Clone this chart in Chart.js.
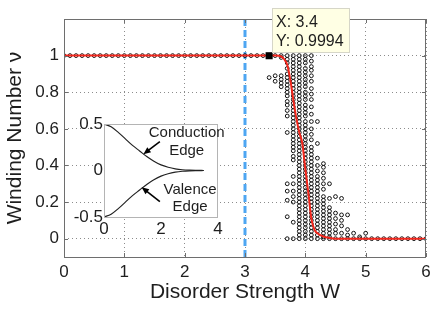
<!DOCTYPE html>
<html>
<head>
<meta charset="utf-8">
<script src="https://cdn.jsdelivr.net/npm/chart.js@4.4.1/dist/chart.umd.min.js"></script>
<style>
    html, body { margin: 0; padding: 0; background: #fff; }
    #wrap { position: relative; width: 436px; height: 311px; }
    #main { position: absolute; left: 0; top: 0; width: 436px; height: 311px; }
    #inset { position: absolute; left: 60px; top: 110px; width: 180px; height: 135px; }
</style>
</head>
<body>
<div id="wrap">
    <canvas id="main" width="436" height="311"></canvas>
    <canvas id="inset" width="180" height="135"></canvas>
</div>
<script>
// ---------------- DATA ----------------
// mean winding number (red curve)
const meanW  = [0, 0.5, 1, 1.5, 2, 2.5, 3, 3.4, 3.5, 3.6, 3.65, 3.7, 3.75, 3.8, 3.85, 3.9, 3.95, 4.0, 4.05, 4.1, 4.15, 4.2, 4.3, 4.4, 4.5, 5, 5.5, 6];
const meanNu = [1, 1, 1, 1, 1, 1, 1, 1, 1, 0.995, 0.98, 0.95, 0.87, 0.76, 0.66, 0.58, 0.52, 0.38, 0.25, 0.11, 0.05, 0.03, 0.012, 0.004, 0, 0, 0, 0];

// single realisations (open circles)
const plateauW = [0, 0.1, 0.2, 0.3, 0.4, 0.5, 0.6, 0.7, 0.8, 0.9, 1.0, 1.1, 1.2, 1.3, 1.4, 1.5, 1.6,
                  1.7, 1.8, 1.9, 2.0, 2.1, 2.2, 2.3, 2.4, 2.5, 2.6, 2.7, 2.8, 2.9, 3.0, 3.1, 3.2, 3.3];
const tailW = [5.1, 5.2, 5.3, 5.4, 5.5, 5.6, 5.7, 5.8, 5.9, 6.0];

const colW = [3.4, 3.5, 3.6, 3.7, 3.8, 3.9, 4.0, 4.1, 4.2, 4.3, 4.4, 4.5, 4.6, 4.7, 4.8, 4.9, 5.0];
const colNu = [
    [1, 0.88],
    [1, 0.89, 0.86],
    [1, 0.99, 0.89, 0.87, 0.85, 0.83],
    [1, 0.98, 0.96, 0.93, 0.9, 0.88, 0.86, 0.84, 0.82, 0.8, 0.78, 0.75, 0.73, 0.7, 0.67, 0.58, 0.3, 0.26, 0.21, 0.12, 0],
    [1, 0.98, 0.96, 0.94, 0.92, 0.9, 0.88, 0.86, 0.84, 0.82, 0.8, 0.78, 0.76, 0.74, 0.72, 0.7, 0.68, 0.66, 0.64,
     0.62, 0.6, 0.58, 0.56, 0.54, 0.52, 0.5, 0.48, 0.45, 0.43, 0.34, 0.3, 0.26, 0.23, 0.2, 0.09, 0],
    [1, 0.98, 0.96, 0.94, 0.92, 0.9, 0.88, 0.86, 0.84, 0.82, 0.8, 0.78, 0.76, 0.74, 0.72, 0.7, 0.68, 0.66, 0.64,
     0.62, 0.6, 0.58, 0.56, 0.54, 0.52, 0.5, 0.48, 0.46, 0.44, 0.42, 0.4, 0.38, 0.36, 0.34, 0.32, 0.3, 0.28,
     0.26, 0.24, 0.22, 0.2, 0.18, 0.16, 0.14, 0.12, 0.1, 0.08, 0.06, 0.04, 0.02, 0],
    [1, 0.98, 0.96, 0.93, 0.91, 0.89, 0.87, 0.85, 0.83, 0.8, 0.78, 0.76, 0.73, 0.71, 0.69, 0.67, 0.64, 0.62,
     0.6, 0.58, 0.56, 0.54, 0.52, 0.5, 0.48, 0.46, 0.44, 0.42, 0.4, 0.38, 0.36, 0.34, 0.32, 0.3, 0.28, 0.26,
     0.24, 0.22, 0.2, 0.18, 0.16, 0.14, 0.12, 0.1, 0.08, 0.06, 0.04, 0.02, 0],
    [1, 0.97, 0.94, 0.92, 0.89, 0.86, 0.82, 0.79, 0.76, 0.72, 0.68, 0.64, 0.6, 0.57, 0.54, 0.5, 0.48, 0.46,
     0.44, 0.42, 0.4, 0.38, 0.36, 0.34, 0.32, 0.3, 0.28, 0.26, 0.24, 0.22, 0.2, 0.18, 0.16, 0.14, 0.12, 0.1,
     0.08, 0.06, 0.04, 0.02, 0],
    [0.64, 0.52, 0.44, 0.4, 0.37, 0.34, 0.32, 0.3, 0.28, 0.26, 0.24, 0.22, 0.2, 0.18, 0.16, 0.14, 0.12, 0.1,
     0.08, 0.06, 0.04, 0.02, 0],
    [0.41, 0.39, 0.36, 0.33, 0.3, 0.27, 0.23, 0.21, 0.19, 0.17, 0.15, 0.13, 0.11, 0.09, 0.07, 0.05, 0.03, 0.01, 0],
    [0.3, 0.22, 0.17, 0.15, 0.13, 0.11, 0.09, 0.07, 0.05, 0.03, 0.01, 0],
    [0.23, 0.14, 0.11, 0.08, 0.05, 0.03, 0],
    [0.22, 0.13, 0.1, 0.07, 0.03, 0],
    [0.13, 0.05, 0.02, 0],
    [0.03, 0],
    [0.01, 0],
    [0.03, 0]
];

// data tip and critical-disorder marker
const tipPoint = { x: 3.4, y: 0.9994 };
const criticalW = 3;

const xTicks = [0, 1, 2, 3, 4, 5, 6];
const yTicks = [0, 0.2, 0.4, 0.6, 0.8, 1];

// inset: band edges vs W
const edgeW      = [0, 0.25, 0.5, 0.75, 1.0, 1.25, 1.5, 1.75, 2.0, 2.25, 2.5, 2.75, 3.0, 3.25, 3.5];
const conduction = [0.5, 0.47, 0.41, 0.34, 0.27, 0.21, 0.15, 0.1, 0.06, 0.035, 0.018, 0.008, 0.003, 0.001, 0];
const valence    = [-0.5, -0.47, -0.41, -0.34, -0.27, -0.21, -0.15, -0.1, -0.06, -0.035, -0.018, -0.008, -0.003, -0.001, 0];
const insetXTicks = [0, 2, 4];
const insetYTicks = [-0.5, 0, 0.5];

const FONT = "'Liberation Sans', Arial, Helvetica, sans-serif";
const TEXT = '#1e1e1e';

// ---------------- PLUGINS ----------------
const boxFrame = {
    id: 'boxFrame',
    beforeDatasetsDraw(chart, args, opts) {
        if (!opts.fill) return;
        const { ctx, chartArea: a } = chart;
        ctx.save();
        ctx.fillStyle = opts.fill;
        ctx.fillRect(a.left, a.top, a.right - a.left, a.bottom - a.top);
        ctx.restore();
    },
    afterDraw(chart, args, opts) {
        const { ctx, chartArea: a, scales } = chart;
        ctx.save();
        ctx.strokeStyle = opts.color;
        ctx.lineWidth = 1;
        ctx.strokeRect(Math.round(a.left) + 0.5, Math.round(a.top) + 0.5,
            Math.round(a.right - a.left) - 1, Math.round(a.bottom - a.top));
        if (opts.tick) {
            ctx.beginPath();
            scales.x.ticks.forEach(t => {
                const px = Math.round(scales.x.getPixelForValue(t.value)) + 0.5;
                ctx.moveTo(px, a.bottom); ctx.lineTo(px, a.bottom - opts.tick);
                ctx.moveTo(px, a.top); ctx.lineTo(px, a.top + opts.tick);
            });
            scales.y.ticks.forEach(t => {
                const py = Math.round(scales.y.getPixelForValue(t.value)) + 0.5;
                ctx.moveTo(a.left, py); ctx.lineTo(a.left + opts.tick, py);
                ctx.moveTo(a.right, py); ctx.lineTo(a.right - opts.tick, py);
            });
            ctx.stroke();
        }
        ctx.restore();
    }
};

const dataTip = {
    id: 'dataTip',
    afterDraw(chart) {
        const { ctx, scales } = chart;
        const px = scales.x.getPixelForValue(tipPoint.x);
        const py = scales.y.getPixelForValue(tipPoint.y);
        const left = Math.round(px) + 3, bottom = Math.round(py) - 3;
        const w = 78, h = 45;
        ctx.save();
        ctx.fillStyle = '#ffffe4';
        ctx.strokeStyle = '#d6d6c8';
        ctx.fillRect(left, bottom - h, w, h);
        ctx.strokeRect(left + 0.5, bottom - h + 0.5, w - 1, h - 1);
        ctx.fillStyle = TEXT;
        ctx.font = `16px ${FONT}`;
        ctx.textBaseline = 'alphabetic';
        ctx.fillText('X: ' + tipPoint.x, left + 4, bottom - h + 19);
        ctx.fillText('Y: ' + tipPoint.y, left + 4, bottom - h + 38);
        ctx.restore();
    }
};

// ---------------- MAIN CHART ----------------
const samples = [];
plateauW.forEach(w => samples.push({ x: w, y: 1 }));
colW.forEach((w, i) => colNu[i].forEach(v => samples.push({ x: w, y: v })));
tailW.forEach(w => samples.push({ x: w, y: 0 }));

new Chart(document.getElementById('main'), {
    type: 'scatter',
    data: {
        datasets: [
            {
                data: [tipPoint],
                pointStyle: 'rect',
                pointRadius: 5,
                backgroundColor: '#000',
                borderColor: '#000',
                borderWidth: 0
            },
            {
                data: meanW.map((w, i) => ({ x: w, y: meanNu[i] })),
                showLine: true,
                cubicInterpolationMode: 'monotone',
                borderColor: '#f2261c',
                borderWidth: 2,
                pointRadius: 0
            },
            {
                data: samples,
                pointStyle: 'circle',
                pointRadius: 1.9,
                borderWidth: 1,
                borderColor: '#111',
                backgroundColor: 'rgba(0,0,0,0)'
            },
            {
                data: [{ x: criticalW, y: -0.1 }, { x: criticalW, y: 1.2 }],
                showLine: true,
                borderColor: '#4ea6f2',
                borderWidth: 3,
                borderDash: [7, 4],
                pointRadius: 0
            }
        ]
    },
    options: {
        responsive: false,
        animation: false,
        layout: { padding: { top: 19, right: 10, left: 0, bottom: 0 } },
        plugins: {
            legend: { display: false },
            tooltip: { enabled: false },
            boxFrame: { color: '#6e6e6e', tick: 4 }
        },
        scales: {
            x: {
                type: 'linear', min: 0, max: 6,
                afterBuildTicks: s => { s.ticks = xTicks.map(v => ({ value: v })); },
                afterFit: s => { s.height = 54; },
                ticks: { color: TEXT, font: { family: FONT, size: 17 }, padding: 5, maxRotation: 0 },
                grid: { color: '#8c8c8c', drawTicks: false, lineWidth: 1 },
                border: { display: false, dash: [1, 3] },
                title: { display: true, text: 'Disorder Strength W', color: TEXT,
                         font: { family: FONT, size: 21 }, padding: { top: 0, bottom: 6 } }
            },
            y: {
                type: 'linear', min: -0.1, max: 1.2,
                afterBuildTicks: s => { s.ticks = yTicks.map(v => ({ value: v })); },
                afterFit: s => { s.width = 64; },
                ticks: { color: TEXT, font: { family: FONT, size: 17 }, padding: 5,
                         callback: v => String(+v.toFixed(2)) },
                grid: { color: '#8c8c8c', drawTicks: false, lineWidth: 1 },
                border: { display: false, dash: [1, 3] },
                title: { display: true, text: 'Winding Number ν', color: TEXT,
                         font: { family: FONT, size: 21 }, padding: { top: 3, bottom: 0 } }
            }
        }
    },
    plugins: [boxFrame, dataTip]
});

// ---------------- INSET ----------------
const edgeLabels = [
    { lines: ['Conduction', 'Edge'], x: 2.9, y: [0.41, 0.21], tail: [1.96, 0.31], tip: [1.38, 0.175] },
    { lines: ['Valence', 'Edge'], x: 3.02, y: [-0.21, -0.39], tail: [1.96, -0.335], tip: [1.32, -0.18] }
];

const edgeNotes = {
    id: 'edgeNotes',
    afterDraw(chart) {
        const { ctx, scales: { x, y } } = chart;
        ctx.save();
        ctx.fillStyle = TEXT;
        ctx.strokeStyle = '#000';
        ctx.font = `15px ${FONT}`;
        ctx.textAlign = 'center';
        ctx.textBaseline = 'middle';
        edgeLabels.forEach(n => {
            n.lines.forEach((t, i) => ctx.fillText(t, x.getPixelForValue(n.x), y.getPixelForValue(n.y[i])));
            const x0 = x.getPixelForValue(n.tail[0]), y0 = y.getPixelForValue(n.tail[1]);
            const x1 = x.getPixelForValue(n.tip[0]), y1 = y.getPixelForValue(n.tip[1]);
            const ang = Math.atan2(y1 - y0, x1 - x0);
            ctx.lineWidth = 1.6;
            ctx.beginPath();
            ctx.moveTo(x0, y0);
            ctx.lineTo(x1 - 5 * Math.cos(ang), y1 - 5 * Math.sin(ang));
            ctx.stroke();
            ctx.beginPath();
            ctx.moveTo(x1, y1);
            ctx.lineTo(x1 - 8 * Math.cos(ang - 0.4), y1 - 8 * Math.sin(ang - 0.4));
            ctx.lineTo(x1 - 8 * Math.cos(ang + 0.4), y1 - 8 * Math.sin(ang + 0.4));
            ctx.closePath();
            ctx.fillStyle = '#000';
            ctx.fill();
            ctx.fillStyle = TEXT;
        });
        ctx.restore();
    }
};

new Chart(document.getElementById('inset'), {
    type: 'scatter',
    data: {
        datasets: [
            {
                data: edgeW.map((w, i) => ({ x: w, y: conduction[i] })),
                showLine: true, cubicInterpolationMode: 'monotone',
                borderColor: '#222', borderWidth: 1.2, pointRadius: 0
            },
            {
                data: edgeW.map((w, i) => ({ x: w, y: valence[i] })),
                showLine: true, cubicInterpolationMode: 'monotone',
                borderColor: '#222', borderWidth: 1.2, pointRadius: 0
            }
        ]
    },
    options: {
        responsive: false,
        animation: false,
        layout: { padding: { top: 14, right: 22, left: 0, bottom: 0 } },
        plugins: {
            legend: { display: false },
            tooltip: { enabled: false },
            boxFrame: { color: '#b4b4b4', fill: '#fff' }
        },
        scales: {
            x: {
                type: 'linear', min: 0, max: 4,
                afterBuildTicks: s => { s.ticks = insetXTicks.map(v => ({ value: v })); },
                afterFit: s => { s.height = 28; },
                ticks: { color: TEXT, font: { family: FONT, size: 17 }, padding: 2, maxRotation: 0 },
                grid: { display: false, drawTicks: false },
                border: { display: false }
            },
            y: {
                type: 'linear', min: -0.5, max: 0.5,
                afterBuildTicks: s => { s.ticks = insetYTicks.map(v => ({ value: v })); },
                afterFit: s => { s.width = 44; },
                ticks: { color: TEXT, font: { family: FONT, size: 17 }, padding: 1,
                         callback: v => String(+v.toFixed(2)) },
                grid: { display: false, drawTicks: false },
                border: { display: false }
            }
        }
    },
    plugins: [boxFrame, edgeNotes]
});
</script>
</body>
</html>
